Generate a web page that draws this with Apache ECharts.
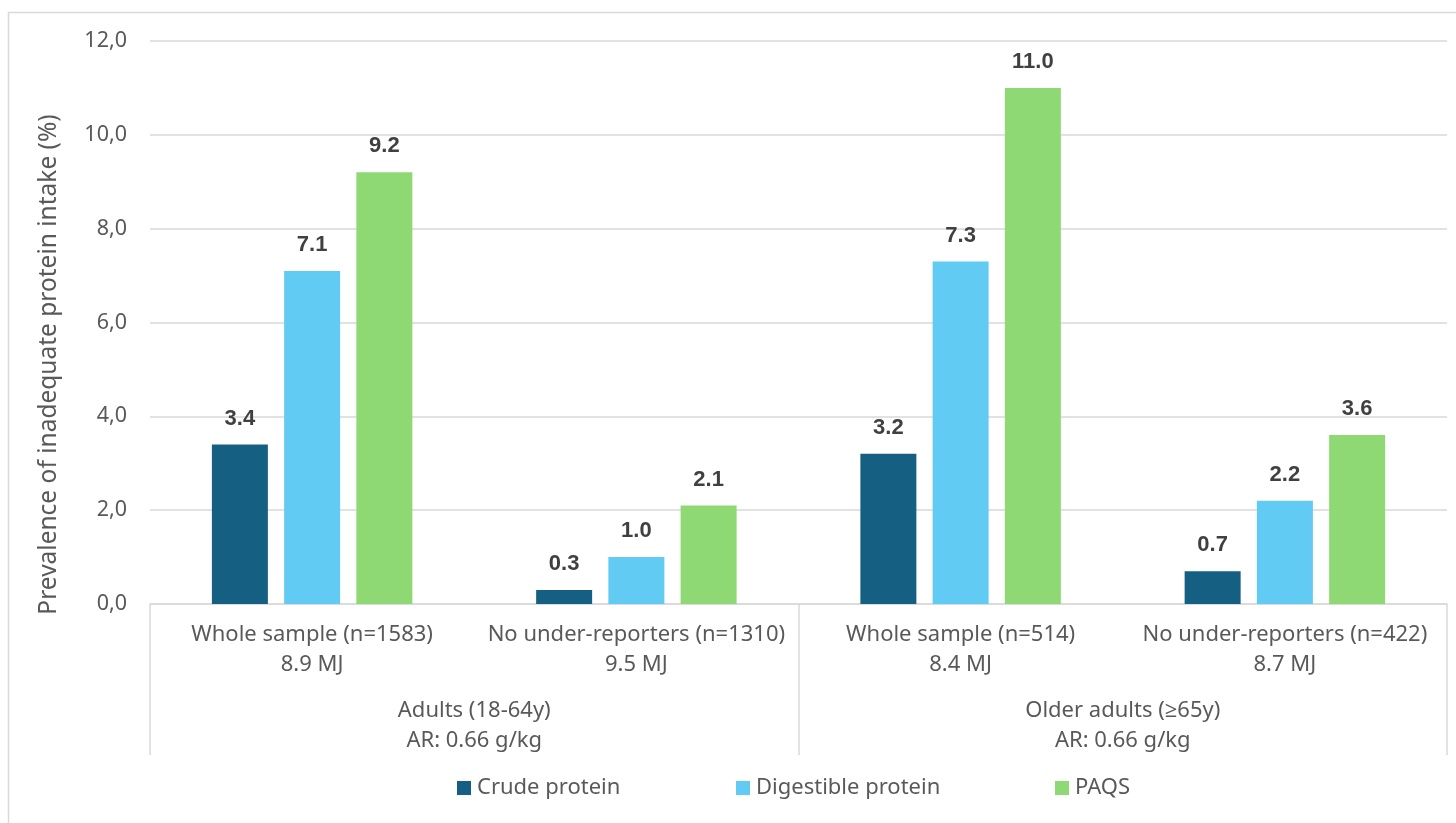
<!DOCTYPE html>
<html>
<head>
<meta charset="utf-8">
<script src="https://cdn.jsdelivr.net/npm/echarts@6/dist/echarts.min.js"></script>
<style>
  html, body { margin: 0; padding: 0; background: #ffffff; }
  #chart { width: 1456px; height: 823px; }
</style>
</head>
<body>
<div id="chart"></div>
<script>
// Sub-groups (first category level) and population groups (second level)
const subgroups = [
  'Whole sample (n=1583)\n8.9 MJ',
  'No under-reporters (n=1310)\n9.5 MJ',
  'Whole sample (n=514)\n8.4 MJ',
  'No under-reporters (n=422)\n8.7 MJ'
];
const populations = [
  'Adults (18-64y)\nAR: 0.66 g/kg',
  'Older adults (\u226565y)\nAR: 0.66 g/kg'
];

// Prevalence of inadequate intake (%) per protein measure
const crudeProtein = [3.4, 0.3, 3.2, 0.7];
const digestibleProtein = [7.1, 1.0, 7.3, 2.2];
const paqs = [9.2, 2.1, 11.0, 3.6];

const seriesNames = ['Crude protein', 'Digestible protein', 'PAQS'];
const seriesColors = ['#156082', '#61CBF3', '#8ED973'];

const yTicks = { min: 0, max: 12, interval: 2 };

const textFont = '"Noto Sans", "Open Sans", sans-serif';
const textColor = '#595959';
const lineColor = '#D9D9D9';

const chart = echarts.init(document.getElementById('chart'), null, { renderer: 'canvas' });

function barSeries(name, values, color) {
  return {
    name: name,
    type: 'bar',
    xAxisIndex: 0,
    yAxisIndex: 0,
    data: values,
    barWidth: 56,
    barGap: '29%',
    itemStyle: { color: color },
    label: {
      show: true,
      position: 'top',
      distance: 15,
      formatter: p => p.value.toFixed(1),
      fontFamily: '"Liberation Sans", Arial, sans-serif',
      fontWeight: 'bold',
      fontSize: 22,
      color: '#404040'
    }
  };
}

const legendLefts = [457, 736, 1055];

chart.setOption({
  animation: false,
  backgroundColor: '#ffffff',
  grid: { left: 150, right: 9, top: 41, bottom: 219, containLabel: false },
  graphic: [{
    type: 'rect',
    shape: { x: 8.5, y: 12.5, width: 1460, height: 830 },
    style: { fill: 'none', stroke: lineColor, lineWidth: 1.5 },
    silent: true,
    z: -1
  }],
  legend: seriesNames.map((n, i) => ({
    data: [n],
    left: legendLefts[i],
    top: 777,
    padding: 0,
    itemWidth: 14,
    itemHeight: 14,
    itemGap: 0,
    icon: 'rect',
    textStyle: { fontFamily: textFont, fontSize: 22, color: textColor, padding: [0, 0, 0, 1] },
    selectedMode: false
  })),
  xAxis: [{
    type: 'category',
    data: subgroups,
    position: 'bottom',
    axisLine: { show: true, lineStyle: { color: lineColor, width: 1.5 } },
    axisTick: { show: false },
    axisLabel: {
      interval: 0,
      margin: 16,
      fontFamily: textFont,
      fontSize: 22,
      lineHeight: 30,
      color: textColor
    }
  }, {
    type: 'category',
    data: populations,
    position: 'bottom',
    offset: 0,
    axisLine: { show: false },
    axisTick: { show: true, length: 151, interval: 0, lineStyle: { color: lineColor, width: 1.5 } },
    axisLabel: {
      interval: 0,
      margin: 92,
      fontFamily: textFont,
      fontSize: 22,
      lineHeight: 30,
      color: textColor
    }
  }],
  yAxis: {
    type: 'value',
    min: yTicks.min,
    max: yTicks.max,
    interval: yTicks.interval,
    name: 'Prevalence of inadequate protein intake (%)',
    nameLocation: 'middle',
    nameGap: 88,
    nameTextStyle: {
      fontFamily: textFont,
      fontSize: 24.5,
      color: textColor,
      // title sits a little below the middle of the value axis
      padding: [0, 84, 0, 0]
    },
    axisLine: { show: false },
    axisTick: { show: false },
    splitLine: { lineStyle: { color: lineColor, width: 1.5 } },
    axisLabel: {
      margin: 23,
      fontFamily: textFont,
      fontSize: 21.5,
      color: textColor,
      formatter: v => v.toFixed(1).replace('.', ',')
    }
  },
  series: [
    barSeries(seriesNames[0], crudeProtein, seriesColors[0]),
    barSeries(seriesNames[1], digestibleProtein, seriesColors[1]),
    barSeries(seriesNames[2], paqs, seriesColors[2])
  ]
});
</script>
</body>
</html>
